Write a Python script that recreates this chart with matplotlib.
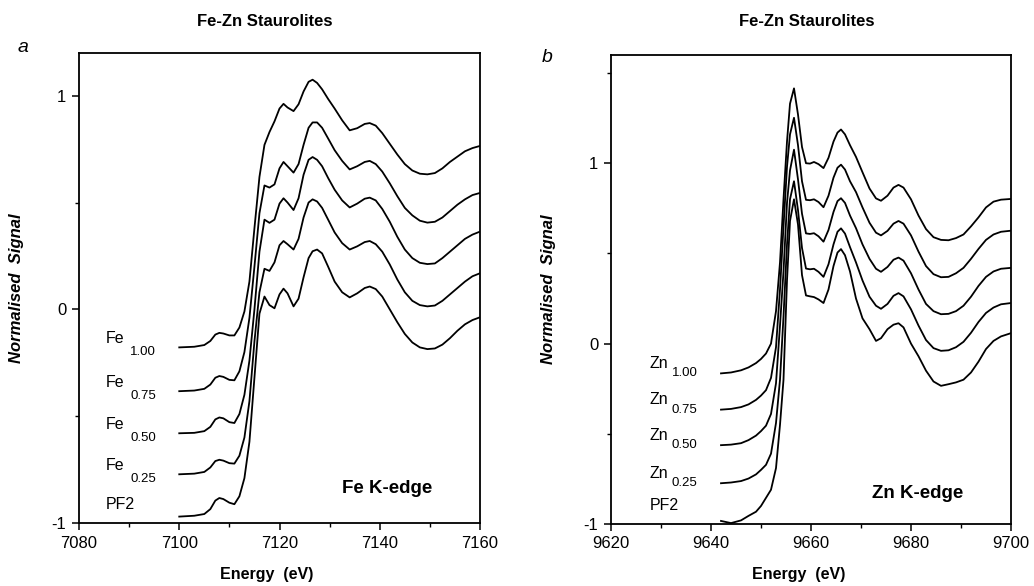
import matplotlib
matplotlib.use("Agg")
import matplotlib.pyplot as plt
from matplotlib.ticker import MultipleLocator

plt.rcParams['font.family'] = ['Liberation Sans', 'DejaVu Sans']
plt.rcParams['axes.unicode_minus'] = False

# ---- Fe K-edge data ----
fe_energy = [7100, 7103, 7105, 7106.2, 7107.2, 7108, 7108.8, 7110, 7111, 7112,
             7113, 7114, 7115, 7116, 7117, 7118, 7119, 7120, 7120.8, 7121.6,
             7122.8, 7123.8, 7124.8, 7125.8, 7126.6, 7127.5, 7128.5, 7129.7, 7131, 7132.5,
             7134, 7135.5, 7137, 7138, 7139.2, 7140.5, 7142, 7143.5, 7145, 7146.5,
             7148, 7149.5, 7151, 7152.5, 7154, 7155.5, 7157, 7158.5, 7160]

fe_100 = [-0.178, -0.175, -0.167, -0.148, -0.118, -0.110, -0.113, -0.122, -0.122, -0.085,
          -0.01, 0.13, 0.38, 0.62, 0.77, 0.83, 0.88, 0.94, 0.962, 0.945,
          0.928, 0.96, 1.02, 1.065, 1.075, 1.06, 1.03, 0.985, 0.94, 0.885,
          0.838, 0.848, 0.868, 0.872, 0.86, 0.825, 0.775, 0.725, 0.68, 0.65,
          0.635, 0.632, 0.638, 0.66, 0.69, 0.715, 0.74, 0.755, 0.765]
fe_075 = [-0.383, -0.380, -0.372, -0.352, -0.32, -0.312, -0.316, -0.33, -0.332, -0.29,
          -0.2, -0.04, 0.2, 0.45, 0.58, 0.57, 0.585, 0.66, 0.69, 0.67,
          0.64, 0.68, 0.77, 0.85, 0.875, 0.875, 0.85, 0.8, 0.745, 0.695,
          0.655, 0.67, 0.69, 0.695, 0.68, 0.645, 0.59, 0.53, 0.475, 0.44,
          0.415, 0.406, 0.41, 0.43, 0.46, 0.49, 0.515, 0.535, 0.545]
fe_050 = [-0.58, -0.578, -0.57, -0.55, -0.515, -0.506, -0.51, -0.528, -0.532, -0.49,
          -0.4, -0.24, 0.0, 0.27, 0.42, 0.405, 0.42, 0.495, 0.52, 0.5,
          0.465, 0.52, 0.63, 0.7, 0.713, 0.7, 0.67, 0.615, 0.56, 0.51,
          0.477, 0.495, 0.518, 0.523, 0.51, 0.47, 0.41, 0.34, 0.28, 0.24,
          0.218, 0.212, 0.215, 0.24, 0.27, 0.3, 0.33, 0.35, 0.364]
fe_025 = [-0.772, -0.769, -0.761, -0.74, -0.71, -0.704, -0.708, -0.72, -0.722, -0.685,
          -0.6, -0.43, -0.15, 0.08, 0.19, 0.18, 0.22, 0.3, 0.32, 0.305,
          0.28, 0.33, 0.43, 0.5, 0.515, 0.505, 0.475, 0.42, 0.36, 0.31,
          0.28, 0.295, 0.315, 0.32, 0.305, 0.27, 0.21, 0.14, 0.08, 0.04,
          0.02, 0.014, 0.018, 0.04, 0.07, 0.1, 0.13, 0.155, 0.169]
fe_pf2 = [-0.97, -0.966, -0.958, -0.935, -0.895, -0.883, -0.888, -0.905, -0.912, -0.875,
          -0.79, -0.62, -0.32, -0.02, 0.06, 0.02, 0.005, 0.07, 0.097, 0.075,
          0.014, 0.05, 0.15, 0.24, 0.272, 0.28, 0.262, 0.2, 0.13, 0.08,
          0.056, 0.075, 0.1, 0.107, 0.095, 0.06, 0.0, -0.06, -0.115, -0.155,
          -0.178, -0.186, -0.183, -0.165, -0.135, -0.1, -0.07, -0.05, -0.037]

fe_curves = [fe_100, fe_075, fe_050, fe_025, fe_pf2]
fe_subs = ['1.00', '0.75', '0.50', '0.25', None]

# ---- Zn K-edge data ----
zn_energy = [9642, 9644, 9646, 9647.5, 9649, 9650, 9651, 9652, 9653, 9653.8,
             9654.5, 9655.2, 9655.8, 9656.6, 9657.4, 9658.2, 9659, 9659.8, 9660.6, 9661.5,
             9662.5, 9663.5, 9664.5, 9665.3, 9666, 9666.8, 9667.8, 9669, 9670.3, 9671.7,
             9673, 9674, 9675.3, 9676.5, 9677.5, 9678.5, 9680, 9681.5, 9683, 9684.5,
             9686, 9687.5, 9689, 9690.5, 9692, 9693.5, 9695, 9696.5, 9698, 9700]

zn_100 = [-0.165, -0.16, -0.148, -0.132, -0.108, -0.085, -0.055, 0.0, 0.18, 0.45,
          0.8, 1.12, 1.33, 1.415, 1.27, 1.09, 1.0, 0.998, 1.007, 0.995,
          0.973, 1.03, 1.12, 1.17, 1.187, 1.16, 1.1, 1.035, 0.95, 0.86,
          0.805, 0.792, 0.82, 0.865, 0.88, 0.865, 0.8, 0.71, 0.635, 0.59,
          0.575, 0.573, 0.585, 0.605, 0.65, 0.7, 0.755, 0.787, 0.798, 0.802]
zn_075 = [-0.366, -0.362, -0.352, -0.337, -0.312, -0.288, -0.258, -0.19, -0.02, 0.3,
          0.65, 0.98, 1.16, 1.252, 1.1, 0.9, 0.797, 0.795, 0.80, 0.785,
          0.756, 0.82, 0.92, 0.975, 0.992, 0.965, 0.9, 0.84, 0.755, 0.67,
          0.615, 0.6, 0.625, 0.665, 0.68, 0.665, 0.6, 0.51, 0.43, 0.385,
          0.368, 0.37, 0.39, 0.42, 0.47, 0.525, 0.575, 0.605, 0.62, 0.626]
zn_050 = [-0.563, -0.56, -0.552, -0.535, -0.51, -0.485, -0.455, -0.39, -0.22, 0.1,
          0.4, 0.78, 0.96, 1.075, 0.91, 0.72, 0.611, 0.608, 0.612, 0.595,
          0.565, 0.63, 0.73, 0.79, 0.806, 0.78, 0.71, 0.64, 0.55, 0.47,
          0.415, 0.398, 0.425, 0.465, 0.477, 0.46, 0.39, 0.3, 0.22, 0.18,
          0.163, 0.165, 0.18, 0.21, 0.26, 0.32, 0.37, 0.4, 0.415, 0.42]
zn_025 = [-0.774, -0.77, -0.762, -0.748, -0.725, -0.7, -0.672, -0.61, -0.44, -0.2,
          0.15, 0.55, 0.8, 0.90, 0.74, 0.53, 0.416, 0.412, 0.415, 0.398,
          0.37, 0.44, 0.55, 0.62, 0.639, 0.61, 0.535, 0.45, 0.35, 0.26,
          0.21, 0.193, 0.22, 0.265, 0.28, 0.262, 0.19, 0.1, 0.02, -0.025,
          -0.04, -0.037, -0.02, 0.01, 0.06, 0.12, 0.17, 0.2, 0.218, 0.225]
zn_pf2 = [-0.983, -0.995, -0.98, -0.955, -0.932, -0.9, -0.855, -0.81, -0.69, -0.45,
          -0.2, 0.35, 0.68, 0.80, 0.66, 0.38, 0.267, 0.262, 0.258, 0.245,
          0.225, 0.3, 0.43, 0.505, 0.524, 0.49, 0.4, 0.25, 0.14, 0.08,
          0.015, 0.03, 0.08, 0.105, 0.113, 0.09, 0.0, -0.07, -0.15, -0.21,
          -0.234, -0.225, -0.215, -0.2, -0.16, -0.1, -0.03, 0.015, 0.04, 0.058]

zn_curves = [zn_100, zn_075, zn_050, zn_025, zn_pf2]
zn_subs = ['1.00', '0.75', '0.50', '0.25', None]

W, H = 1034, 586
fig = plt.figure(figsize=(W / 100, H / 100), dpi=100)


def px_axes(x0, y0, x1, y1):
    # pixel box (top-left origin) -> figure fraction axes
    return fig.add_axes([x0 / W, 1 - y1 / H, (x1 - x0) / W, (y1 - y0) / H])


def style_axes(ax):
    for sp in ax.spines.values():
        sp.set_linewidth(1.3)
    ax.tick_params(which='major', direction='out', length=5, width=1.1,
                   labelsize=12, top=False, right=False, pad=4)
    ax.tick_params(which='minor', direction='out', length=3, width=1.0,
                   top=False, right=False)
    ax.xaxis.set_major_locator(MultipleLocator(20))
    ax.xaxis.set_minor_locator(MultipleLocator(10))
    ax.yaxis.set_major_locator(MultipleLocator(1))
    ax.yaxis.set_minor_locator(MultipleLocator(0.5))
    ax.text(-0.155, 0.5, 'Normalised  Signal', transform=ax.transAxes,
            rotation=90, ha='center', va='center', fontsize=12,
            fontweight='bold', fontstyle='italic')


# ---- panel a ----
ax1 = px_axes(79, 53, 480, 523)
for y in fe_curves:
    ax1.plot(fe_energy, y, color='black', lw=1.3)
ax1.set_xlim(7080, 7160)
ax1.set_ylim(-1, 1.2)
style_axes(ax1)
for y, sub in zip(fe_curves, fe_subs):
    if sub is None:
        ax1.text(7085.4, y[0] + 0.037, 'PF2', fontsize=11.5, va='baseline')
    else:
        ax1.text(7085.4, y[0] + 0.02, 'Fe', fontsize=11.5, va='baseline')
        ax1.text(7090.2, y[0] - 0.035, sub, fontsize=9.5, va='baseline')
ax1.text(7132.4, -0.86, 'Fe K-edge', fontsize=13.5, fontweight='bold', va='baseline')

# ---- panel b ----
ax2 = px_axes(611, 55, 1011, 524)
for y in zn_curves:
    ax2.plot(zn_energy, y, color='black', lw=1.3)
ax2.set_xlim(9620, 9700)
ax2.set_ylim(-1, 1.6)
style_axes(ax2)
for y, sub in zip(zn_curves, zn_subs):
    if sub is None:
        ax2.text(9627.8, y[0] + 0.06, 'PF2', fontsize=11.5, va='baseline')
    else:
        ax2.text(9627.8, y[0] + 0.03, 'Zn', fontsize=11.5, va='baseline')
        ax2.text(9632.2, y[0] - 0.017, sub, fontsize=9.5, va='baseline')
ax2.text(9672.3, -0.855, 'Zn K-edge', fontsize=13.5, fontweight='bold', va='baseline')

# ---- figure texts ----
fig.text(265 / W, 1 - 22 / H, 'Fe-Zn Staurolites', ha='center', va='center',
         fontsize=12, fontweight='bold')
fig.text(807 / W, 1 - 22 / H, 'Fe-Zn Staurolites', ha='center', va='center',
         fontsize=12, fontweight='bold')
fig.text(23 / W, 1 - 48 / H, 'a', ha='center', va='center', fontsize=14, fontstyle='italic')
fig.text(547 / W, 1 - 57 / H, 'b', ha='center', va='center', fontsize=14, fontstyle='italic')
fig.text(267 / W, 1 - 575 / H, 'Energy  (eV)', ha='center', va='center',
         fontsize=11.5, fontweight='bold')
fig.text(799 / W, 1 - 575 / H, 'Energy  (eV)', ha='center', va='center',
         fontsize=11.5, fontweight='bold')

fig.savefig('out.png', dpi=100)
